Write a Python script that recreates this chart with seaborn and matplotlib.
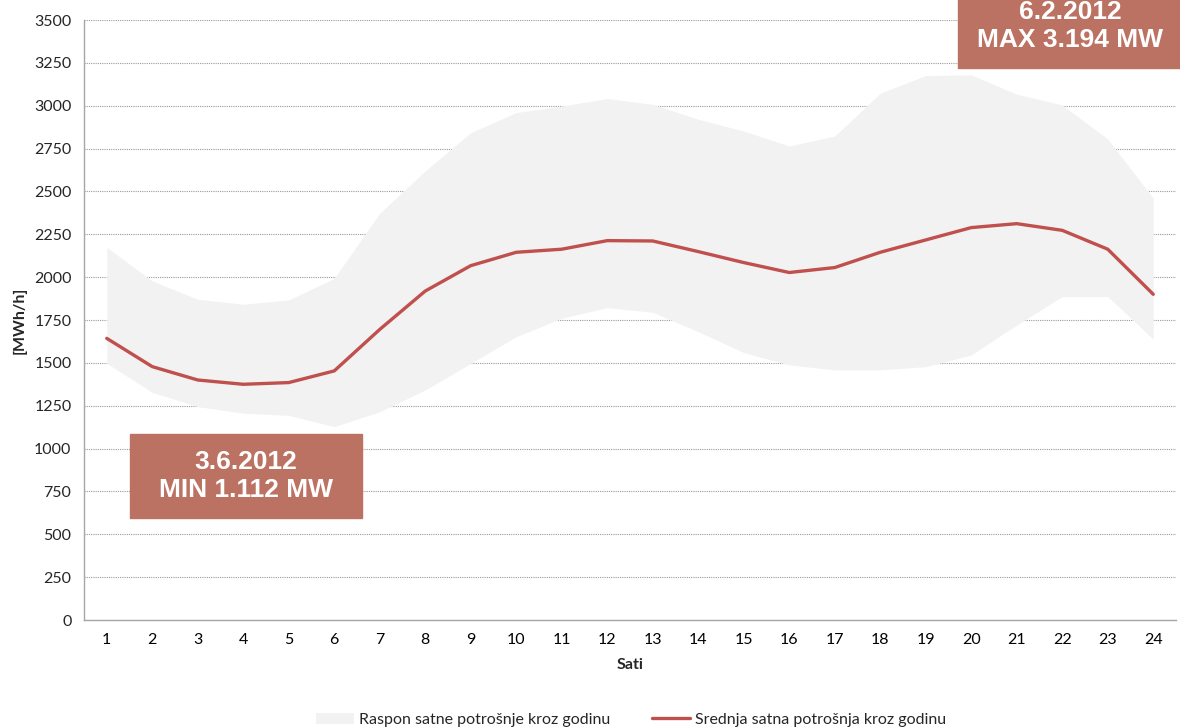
import matplotlib

matplotlib.use("Agg")
import matplotlib.pyplot as plt
import pandas as pd
import seaborn as sns
from matplotlib.patches import Rectangle

HOURS = list(range(1, 25))
MEAN_LOAD = [1643, 1478, 1400, 1375, 1385, 1453, 1695, 1919, 2067, 2145, 2163, 2213,
             2211, 2149, 2085, 2027, 2056, 2145, 2217, 2289, 2312, 2273, 2163, 1900]
MAX_LOAD = [2174, 1978, 1871, 1842, 1867, 1993, 2373, 2620, 2843, 2960, 2998, 3042,
            3008, 2921, 2852, 2765, 2823, 3073, 3176, 3180, 3067, 3004, 2806, 2460]
MIN_LOAD = [1497, 1328, 1245, 1206, 1194, 1128, 1215, 1342, 1497, 1653, 1760, 1822,
            1795, 1682, 1560, 1488, 1459, 1459, 1478, 1546, 1721, 1887, 1887, 1638]
Y_TICKS = list(range(0, 3501, 250))
RANGE_LABEL = "Raspon satne potrošnje kroz godinu"
MEAN_LABEL = "Srednja satna potrošnja kroz godinu"
MIN_NOTE = "3.6.2012\nMIN 1.112 MW"
MAX_NOTE = "6.2.2012\nMAX 3.194 MW"

LINE_COLOR = "#C0504D"
BAND_COLOR = "#F2F2F2"
BOX_COLOR = "#BC7262"
AXIS_COLOR = "#A6A6A6"


def main():
    df = pd.DataFrame({"sat": HOURS, "mean": MEAN_LOAD, "lo": MIN_LOAD, "hi": MAX_LOAD})

    sns.set_style("white")
    plt.rcParams["font.family"] = ["Lato", "DejaVu Sans"]

    fig = plt.figure(figsize=(11.8, 7.27), dpi=100)
    ax = fig.add_axes([84 / 1180, 107 / 727, 1092 / 1180, 600 / 727])

    # grid first, band covers it
    ax.set_axisbelow(True)
    ax.yaxis.grid(True, linestyle=(0, (1, 1)), color="#9A9A9A", linewidth=0.8)

    ax.fill_between(df["sat"], df["lo"], df["hi"], color=BAND_COLOR, linewidth=0,
                    zorder=1.5, label=RANGE_LABEL)
    sns.lineplot(data=df, x="sat", y="mean", ax=ax, color=LINE_COLOR, linewidth=2.4,
                 zorder=3, label=MEAN_LABEL)

    ax.set_xlim(0.5, 24.5)
    ax.set_ylim(0, 3500)
    ax.set_yticks(Y_TICKS)
    ax.set_xticks(HOURS)
    ax.set_xticks([h - 0.5 for h in HOURS] + [24.5], minor=True)
    ax.tick_params(axis="x", which="major", length=0, pad=9, labelsize=11.5, colors="#000000")
    ax.tick_params(axis="x", which="minor", length=5, color=AXIS_COLOR, width=1)
    ax.tick_params(axis="y", length=5, color=AXIS_COLOR, width=1, labelsize=11.5, pad=4)

    for side in ["top", "right"]:
        ax.spines[side].set_visible(False)
    for side in ["left", "bottom"]:
        ax.spines[side].set_color(AXIS_COLOR)
        ax.spines[side].set_linewidth(1)

    ax.set_xlabel("Sati", fontsize=11.5, fontweight="bold", labelpad=8)
    ax.set_ylabel("[MWh/h]", fontsize=11.5, fontweight="bold", labelpad=5)
    ax.get_legend().remove()

    handles, labels = ax.get_legend_handles_labels()
    fig.legend(handles, labels, loc="center", bbox_to_anchor=(631 / 1180, 0.01),
               ncol=2, frameon=False, fontsize=11.5, handlelength=2.4,
               columnspacing=2.6, handletextpad=0.3)

    # annotation boxes
    box_font = {"family": ["Liberation Sans", "DejaVu Sans"], "weight": "bold",
                "size": 19, "color": "white"}
    fig.patches.append(Rectangle((130 / 1180, 209 / 727), 232 / 1180, 84 / 727,
                                 transform=fig.transFigure, color=BOX_COLOR, zorder=5))
    fig.text(246 / 1180, 251 / 727, MIN_NOTE, ha="center", va="center",
             linespacing=1.2, zorder=6, **box_font)
    fig.patches.append(Rectangle((958 / 1180, 659 / 727), 230 / 1180, 80 / 727,
                                 transform=fig.transFigure, color=BOX_COLOR, zorder=5))
    fig.text(1070 / 1180, 701 / 727, MAX_NOTE, ha="center", va="center",
             linespacing=1.2, zorder=6, **box_font)

    fig.savefig("out.png", dpi=100)
    plt.close(fig)


if __name__ == "__main__":
    main()
